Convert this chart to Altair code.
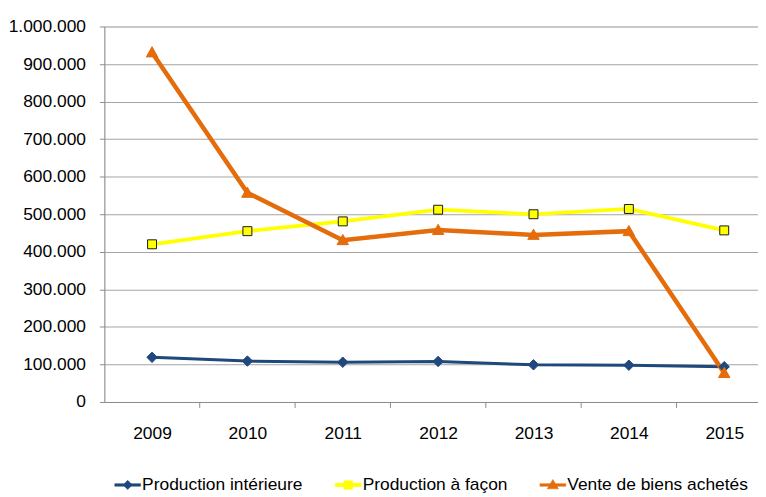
import altair as alt
import pandas as pd

# ---- data ----
years = [2009, 2010, 2011, 2012, 2013, 2014, 2015]
series_names = ["Production intérieure", "Production à façon", "Vente de biens achetés"]
prod_interieure = [119000, 109000, 106000, 108000, 99000, 98000, 94000]
prod_facon = [420000, 455000, 481000, 512000, 500000, 514000, 457000]
vente_biens = [931000, 557000, 431000, 458000, 445000, 455000, 77000]
y_ticks = [0, 100000, 200000, 300000, 400000, 500000, 600000, 700000, 800000, 900000, 1000000]

# ---- styles ----
line_colors = ["#1F497D", "#FFFF00", "#E46C0A"]
marker_strokes = ["#1F497D", "#1A1A1A", "#E46C0A"]
line_widths = [3, 4.5, 3]
shapes = [
    "M0,-0.42L0.42,0L0,0.42L-0.42,0Z",
    "M-0.36,-0.36H0.36V0.36H-0.36Z",
    "M0,-0.46L0.46,0.36H-0.46Z",
]
# legend symbols: a short line segment with the marker on it
legend_shapes = [
    "M-1,-0.1H1V0.1H-1Z M0,-0.36L0.36,0L0,0.36L-0.36,0Z",
    "M-1,-0.14H1V0.14H-1Z M-0.33,-0.33H0.33V0.33H-0.33Z",
    "M-1,-0.1H1V0.1H-1Z M0,-0.42L0.44,0.3H-0.44Z",
]
FONT = "Liberation Sans, Arial, sans-serif"
GRID = "#A3A3A3"
W, H = 658, 378
PX_PER_YEAR = 96

rows = []
for name, vals in zip(series_names, [prod_interieure, prod_facon, vente_biens]):
    for yr, v in zip(years, vals):
        rows.append({"year": yr, "value": v, "series": name, "serie": name, "leg": name})
df = pd.DataFrame(rows)

bounds = pd.DataFrame({"b": [y + 0.5 for y in years[:-1]]})

x_scale = alt.Scale(domain=[years[0] - 0.5, years[0] - 0.5 + W / PX_PER_YEAR], nice=False, zero=False)
y_scale = alt.Scale(domain=[0, 1000000], nice=False)

x_enc = alt.X("year:Q", scale=x_scale,
              axis=alt.Axis(values=years, format="d", ticks=False, grid=False, title=None,
                            labelFontSize=17.5, labelPadding=23, labelColor="#000000",
                            domainColor="#8C8C8C", labelOverlap=False, labelFlush=False))
y_enc = alt.Y("value:Q", scale=y_scale,
              axis=alt.Axis(values=y_ticks, title=None, grid=True, gridColor=GRID,
                            labelExpr="replace(format(datum.value, ','), regexp(',', 'g'), '.')",
                            labelFontSize=17.5, labelPadding=14, labelColor="#000000",
                            tickSize=5, tickColor="#8C8C8C", domainColor="#8C8C8C"))

legend = alt.Legend(orient="none", legendX=10, legendY=448, direction="horizontal",
                    title=None, labelFontSize=17.5, labelFont=FONT, labelLimit=400,
                    labelColor="#000000", columnPadding=31, labelOffset=1,
                    symbolSize=676, symbolStrokeWidth=0.5, symbolOpacity=1, padding=0)

ticks = alt.Chart(bounds).mark_rule(color="#8C8C8C", strokeWidth=1).encode(
    x=alt.X("b:Q", scale=x_scale), y=alt.value(H), y2=alt.value(H + 6)
)

lines = alt.Chart(df).mark_line().encode(
    x=x_enc, y=y_enc,
    color=alt.Color("series:N", scale=alt.Scale(domain=series_names, range=line_colors), legend=None),
    strokeWidth=alt.StrokeWidth("series:N", scale=alt.Scale(domain=series_names, range=line_widths), legend=None),
    order=alt.Order("year:Q"),
)

points = alt.Chart(df).mark_point(filled=True, size=625, opacity=1, strokeWidth=1).encode(
    x=x_enc, y=y_enc,
    fill=alt.Fill("serie:N", scale=alt.Scale(domain=series_names, range=line_colors), legend=None),
    stroke=alt.Stroke("serie:N", scale=alt.Scale(domain=series_names, range=marker_strokes), legend=None),
    shape=alt.Shape("serie:N", scale=alt.Scale(domain=series_names, range=shapes), legend=None),
)

# invisible layer that only provides the legend (line + marker symbols)
legend_layer = alt.Chart(df).mark_point(filled=True, size=676, opacity=0).encode(
    x=x_enc, y=y_enc,
    fill=alt.Fill("leg:N", scale=alt.Scale(range=line_colors), legend=legend),
    stroke=alt.Stroke("leg:N", scale=alt.Scale(range=line_colors), legend=legend),
    shape=alt.Shape("leg:N", scale=alt.Scale(range=legend_shapes), legend=legend),
)

chart = alt.layer(ticks, lines, points, legend_layer).resolve_scale(
    color="independent", fill="independent", stroke="independent", shape="independent"
).properties(
    width=W, height=H,
    autosize=alt.AutoSizeParams(type="none"),
    padding={"left": 97, "top": 17, "right": 0, "bottom": 92},
).configure_view(stroke=None).configure(font=FONT)

chart.save("out.html", embed_options={"renderer": "svg", "actions": False})
